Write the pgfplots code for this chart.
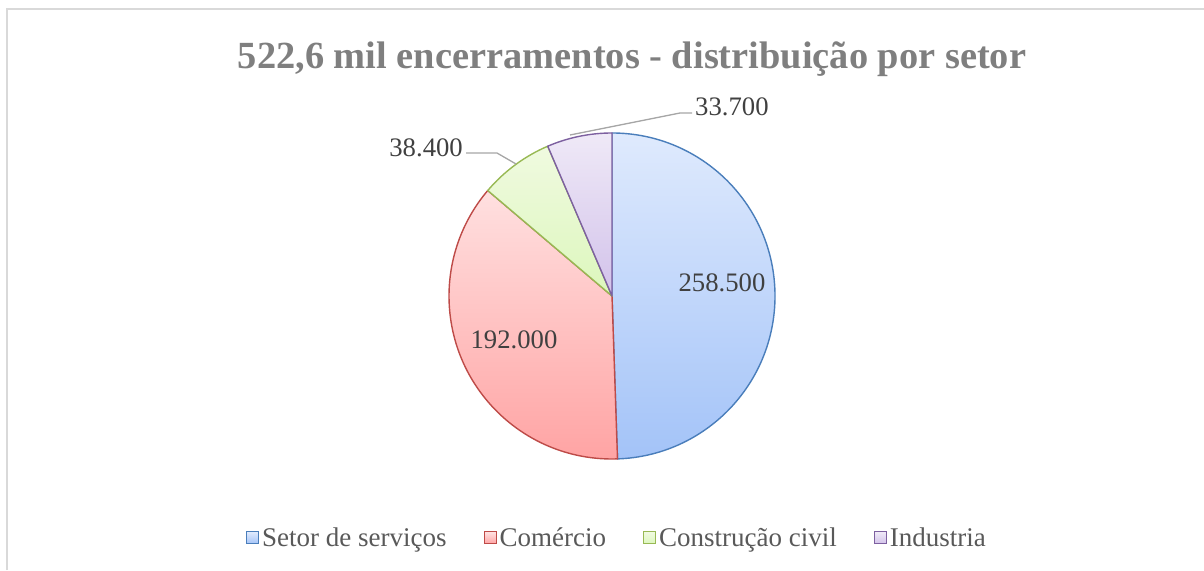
\documentclass[border=0pt]{standalone}
\usepackage{pgfplots}
\pgfplotsset{compat=1.18}
\usepackage{pgfplotstable}
\usepackage{fontspec}
\setmainfont{Liberation Serif}

\definecolor{frame}{HTML}{D9D9D9}
\definecolor{titlegray}{HTML}{7F7F7F}
\definecolor{labgray}{HTML}{404040}
\definecolor{leggray}{HTML}{595959}
\definecolor{leader}{HTML}{A6A6A6}
\definecolor{blueB}{HTML}{4A7EBB}
\definecolor{blueT}{HTML}{DFEAFD}
\definecolor{blueL}{HTML}{A3C3F8}
\definecolor{redB}{HTML}{BE4B48}
\definecolor{redT}{HTML}{FFE0E0}
\definecolor{redL}{HTML}{FFA3A3}
\definecolor{greenB}{HTML}{98B954}
\definecolor{greenT}{HTML}{F0FAE0}
\definecolor{greenL}{HTML}{DCF7BC}
\definecolor{purpB}{HTML}{7D60A0}
\definecolor{purpT}{HTML}{EFE9F7}
\definecolor{purpL}{HTML}{D2C2EA}

% encerramentos por setor
\pgfplotstableread{
setor value
Servicos 258500
Comercio 192000
Construcao 38400
Industria 33700
}\piedata

\pgfplotstablegetelem{0}{value}\of\piedata\edef\vA{\pgfplotsretval}
\pgfplotstablegetelem{1}{value}\of\piedata\edef\vB{\pgfplotsretval}
\pgfplotstablegetelem{2}{value}\of\piedata\edef\vC{\pgfplotsretval}
\pgfplotstablegetelem{3}{value}\of\piedata\edef\vD{\pgfplotsretval}
\edef\total{\fpeval{\vA+\vB+\vC+\vD}}
\edef\aA{90}
\edef\aB{\fpeval{\aA-360*\vA/\total}}
\edef\aC{\fpeval{\aB-360*\vB/\total}}
\edef\aD{\fpeval{\aC-360*\vC/\total}}
\edef\aE{\fpeval{\aD-360*\vD/\total}}

\def\cx{612}\def\cy{274}\def\rad{163pt}
\newcommand\slice[5]{%
  \path[draw=#3, line width=1.4pt, top color=#4, bottom color=#5, line join=round]
    (axis cs:\cx,\cy) -- ++(#1:\rad) arc[start angle=#1, end angle=#2, radius=\rad] -- cycle;}
\newcommand\val[1]{\pgfmathprintnumber[fixed, precision=0, 1000 sep={.}, assume math mode=true]{#1}}

\pgfplotsset{
  legsq/.style n args={3}{legend image code/.code={%
    \path[draw=#1, line width=1pt, top color=#2, bottom color=#3] (0pt,-6pt) rectangle (12pt,6pt);}},
}

\begin{document}
\begin{tikzpicture}
\begin{axis}[
    hide axis, scale only axis,
    width=1204pt, height=570pt,
    xmin=0, xmax=1204, ymin=0, ymax=570,
    at={(0,0)}, anchor=south west,
    clip=false,
    legend columns=4,
    legend style={at={(axis cs:617,32)}, anchor=center, draw=none, fill=none,
        font=\fontsize{27}{30}\selectfont, text=leggray,
        /tikz/every odd column/.append style={column sep=1pt},
        /tikz/every even column/.append style={column sep=35pt},
        nodes={inner sep=2pt}},
]
\addlegendimage{legsq={blueB}{blueT}{blueL}}
\addlegendentry{Setor de serviços}
\addlegendimage{legsq={redB}{redT}{redL}}
\addlegendentry{Comércio}
\addlegendimage{legsq={greenB}{greenT}{greenL}}
\addlegendentry{Construção civil}
\addlegendimage{legsq={purpB}{purpT}{purpL}}
\addlegendentry{Industria}

\pgfplotsextra{
  \slice{\aA}{\aB}{blueB}{blueT}{blueL}
  \slice{\aB}{\aC}{redB}{redT}{redL}
  \slice{\aC}{\aD}{greenB}{greenT}{greenL}
  \slice{\aD}{\aE}{purpB}{purpT}{purpL}
  % leader lines
  \draw[leader, line width=1.3pt] (axis cs:516,406) -- (axis cs:497,417) -- (axis cs:466,417);
  \draw[leader, line width=1.3pt] (axis cs:570,435) -- (axis cs:680,457) -- (axis cs:692,457);
  % labels
  \begingroup\fontsize{26.7}{30}\selectfont
  \node[text=labgray] at (axis cs:722,287) {\val{\vA}};
  \node[text=labgray] at (axis cs:514,230) {\val{\vB}};
  \node[text=labgray, anchor=east, inner sep=1pt] at (axis cs:464,422) {\val{\vC}};
  \node[text=labgray, anchor=west, inner sep=1pt] at (axis cs:694,463) {\val{\vD}};
  \endgroup
  % title
  \node[text=titlegray, font=\fontsize{38.4}{42}\selectfont\bfseries] at (axis cs:632,511)
    {522,6 mil encerramentos - distribuição por setor};
  % chart frame
  \draw[frame, line width=2pt] (axis cs:7,0) -- (axis cs:7,561) -- (axis cs:1204,561);
}
\end{axis}
\pgfresetboundingbox
\useasboundingbox (0,0) rectangle (1204pt,570pt);
\end{tikzpicture}
\end{document}
